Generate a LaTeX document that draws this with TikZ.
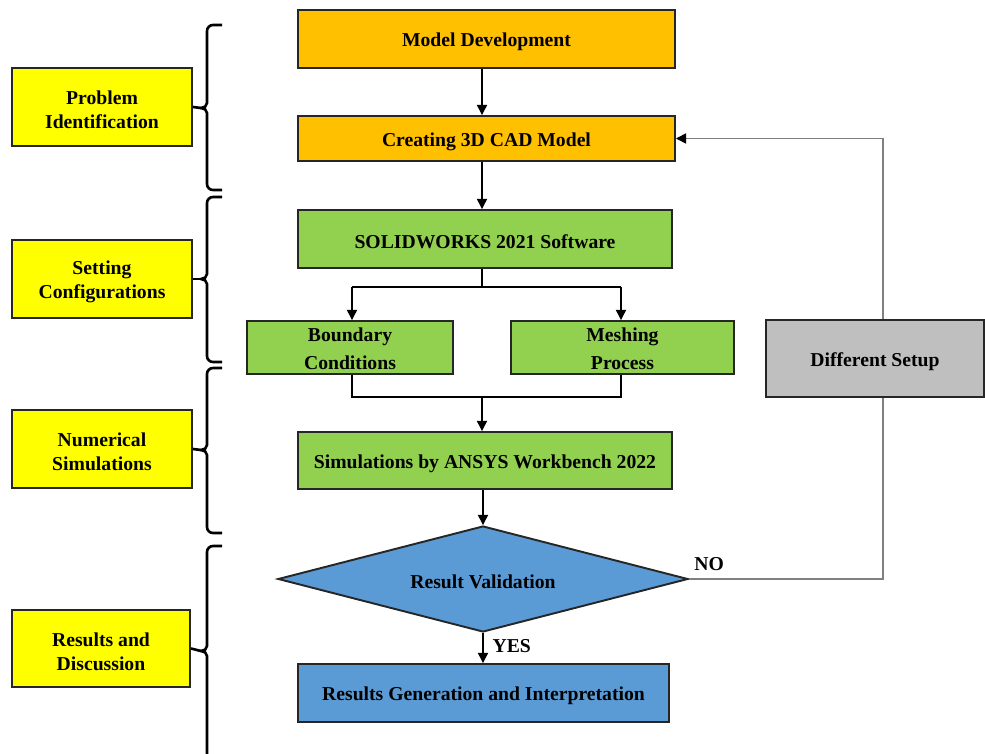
\documentclass[tikz,border=0pt]{standalone}
\usepackage{fontspec}
\setmainfont{Liberation Serif}
\usetikzlibrary{arrows.meta,shapes.geometric,calc}
\definecolor{orng}{HTML}{FFC000}
\definecolor{grn}{HTML}{92D050}
\definecolor{blu}{HTML}{5B9BD5}
\definecolor{gry}{HTML}{BFBFBF}
\definecolor{yel}{HTML}{FFFF00}
\definecolor{loopc}{HTML}{808080}
\newcommand\pxu{0.02cm}
\begin{document}
\begin{tikzpicture}[x=0.02cm,y=-0.02cm,
  box/.style={draw=black!85, line width=1.1pt, inner sep=0pt},
  wh/.style 2 args={minimum width=#1*\pxu, minimum height=#2*\pxu},
  txt/.style={label={[lbl, align=center, yshift=-3*\pxu]center:#1}},
  txtb/.style={label={[lbl, align=center, yshift=-1*\pxu, font=\fontsize{11.2}{16}\selectfont\bfseries]center:#1}},
  conn/.style={draw=black, line width=0.75pt},
  arr/.style={conn, -{Triangle[length=5.8pt,width=5.8pt]}},
  loopline/.style={draw=loopc, line width=0.85pt},
  bracepath/.style={draw=black, line width=1.5pt},
  lbl/.style={font=\fontsize{11.2}{13.6}\selectfont\bfseries, inner sep=0pt}
]
\useasboundingbox (0,0) rectangle (985,754);

% main flow
\node[box, fill=orng, wh={377}{58}, txt={Model Development}] (md) at (486.5,39) {};
\node[box, fill=orng, wh={377}{45}, txt={Creating 3D CAD Model}] (cad) at (486.5,138.5) {};
\node[box, fill=grn, wh={374}{58}, txt={SOLIDWORKS 2021 Software}] (sw) at (485,239) {};
\node[box, fill=grn, wh={206}{53}, txtb={Boundary\\Conditions}] (bc) at (350,347.5) {};
\node[box, fill=grn, wh={223}{53}, txtb={Meshing\\Process}] (mp) at (622.5,347.5) {};
\node[box, fill=grn, wh={374}{57}, txt={Simulations by ANSYS Workbench 2022}] (an) at (485,460.5) {};
\node[box, diamond, fill=blu, aspect=3.87, wh={410}{106}, txt={Result Validation}] (dia) at (483,579) {};
\node[box, fill=blu, wh={371}{58}, txt={Results Generation and Interpretation}] (res) at (483.5,693) {};
\node[box, fill=gry, wh={218}{77}, txt={Different Setup}] (ds) at (875,358.5) {};

% side labels
\node[box, fill=yel, wh={180}{78}, txt={Problem\\Identification}] (pi) at (102,107) {};
\node[box, fill=yel, wh={180}{78}, txt={Setting\\Configurations}] (sc) at (102,279) {};
\node[box, fill=yel, wh={180}{78}, txt={Numerical\\Simulations}] (ns) at (102,449) {};
\node[box, fill=yel, wh={178}{77}, txt={Results and\\Discussion}] (rd) at (101,648.5) {};

% helper coordinates
\coordinate (col) at (482,0);
\coordinate (split) at (482,287);
\coordinate (merge) at (482,397);
\coordinate (loopx) at (883,0);

% connectors
\draw[arr] (md.south -| col) -- (cad.north -| col);
\draw[arr] (cad.south -| col) -- (sw.north -| col);
\draw[conn] (sw.south -| col) -- (split);
\draw[conn] ([xshift=2*\pxu]bc.north |- split) -- ([xshift=-1.5*\pxu]mp.north |- split);
\draw[arr] ([xshift=2*\pxu]bc.north |- split) -- ([xshift=2*\pxu]bc.north);
\draw[arr] ([xshift=-1.5*\pxu]mp.north |- split) -- ([xshift=-1.5*\pxu]mp.north);
\draw[conn] ([xshift=2*\pxu]bc.south) -- ([xshift=2*\pxu]bc.south |- merge) -- ([xshift=-1.5*\pxu]mp.south |- merge) -- ([xshift=-1.5*\pxu]mp.south);
\draw[arr] (merge) -- (an.north -| col);
\draw[arr] (an.south -| dia.north) -- (dia.north);
\draw[arr] (dia.south) -- node[lbl, right=9*\pxu, pos=0.45] (yes) {YES} (res.north -| dia.south);
\draw[loopline] (dia.east) -- (dia.east -| loopx) -- (ds.south -| loopx);
\draw[loopline, -{Triangle[length=5.8pt,width=5.8pt,color=black]}] (ds.north -| loopx) -- (cad.east -| loopx) -- (cad.east);
\node[lbl, anchor=south west] (no) at ([xshift=5*\pxu,yshift=8*\pxu]dia.east) {NO};

% braces
\coordinate (t1) at (201,108);
\coordinate (t2) at (201,279);
\coordinate (t3) at (201,450);
\coordinate (t4) at (201,651);
\foreach \t/\m/\b in {25/108/190, 197/279/362, 368/450/533, 546/651/760}{
  \draw[bracepath] (222,\t) -- (213,\t) to[out=180,in=90] (207,\t+6) -- (207,\m-5)
     to[out=-90,in=0] (201,\m) to[out=0,in=90] (207,\m+5) -- (207,\b-6)
     to[out=-90,in=180] (213,\b) -- (222,\b);
}
\draw[bracepath] (pi.east) -- (t1);
\draw[bracepath] (sc.east) -- (t2);
\draw[bracepath] (ns.east) -- (t3);
\draw[bracepath] (rd.east) -- (t4);
\end{tikzpicture}
\end{document}
